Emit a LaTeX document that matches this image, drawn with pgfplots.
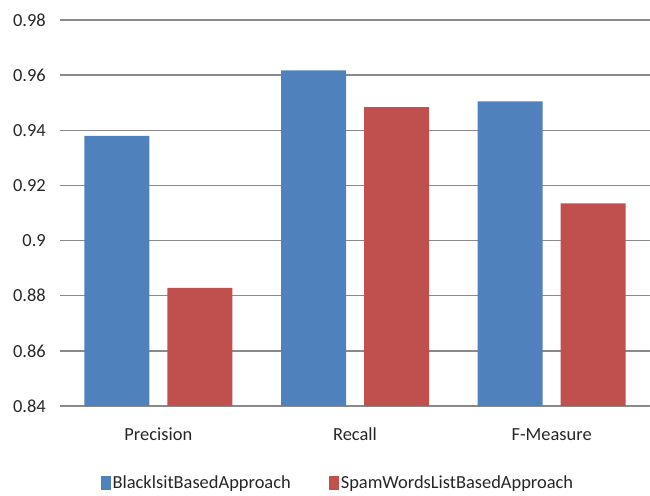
\documentclass[border=0pt]{standalone}
\usepackage{fontspec}
\setmainfont{Carlito}
\usepackage{pgfplots}
\pgfplotsset{compat=1.18}
\definecolor{xblue}{HTML}{4F81BD}
\definecolor{xred}{HTML}{C0504D}
\definecolor{xgrid}{HTML}{8A8A8A}
\definecolor{xtext}{HTML}{262626}
\begin{document}
\begin{tikzpicture}[x=1bp,y=1bp]
\path[use as bounding box] (0,0) rectangle (650,496);
\begin{axis}[
  at={(60bp,90bp)}, anchor=south west,
  scale only axis, width=590bp, height=386bp,
  ymin=0.84, ymax=0.98,
  ytick={0.84,0.86,0.88,0.90,0.92,0.94,0.96,0.98},
  yticklabels={0.84,0.86,0.88,0.9,0.92,0.94,0.96,0.98},
  xmin=-0.5, xmax=2.5,
  xtick={0,1,2}, xticklabels={Precision,Recall,F-Measure},
  ybar=18bp, bar width=65bp,
  axis line style={draw=none},
  major tick length=0pt,
  ymajorgrids, grid style={xgrid, line width=1.3bp},
  tick label style={font=\fontsize{18.5}{22}\selectfont, text=xtext},
  yticklabel style={anchor=east, inner sep=0pt, xshift=-14bp},
  xticklabel style={anchor=north, inner sep=0pt, yshift=-22bp},
  legend style={at={(axis description cs:0.471,-0.1995)}, anchor=center,
    draw=none, fill=none, legend columns=2,
    font=\fontsize{18.5}{22}\selectfont, text=xtext,
    /tikz/every even column/.append style={column sep=36bp},
    legend cell align=left, inner sep=0pt,
    nodes={inner sep=2bp}},
  legend image code/.code={\fill[#1] (0bp,-7bp) rectangle (10bp,7bp);},
]
\addplot[fill=xblue, draw=none] coordinates {(0,0.938) (1,0.9617) (2,0.9505)};
\addplot[fill=xred, draw=none] coordinates {(0,0.8828) (1,0.9484) (2,0.9135)};
\legend{BlacklsitBasedApproach, SpamWordsListBasedApproach}
\end{axis}
\end{tikzpicture}
\end{document}
